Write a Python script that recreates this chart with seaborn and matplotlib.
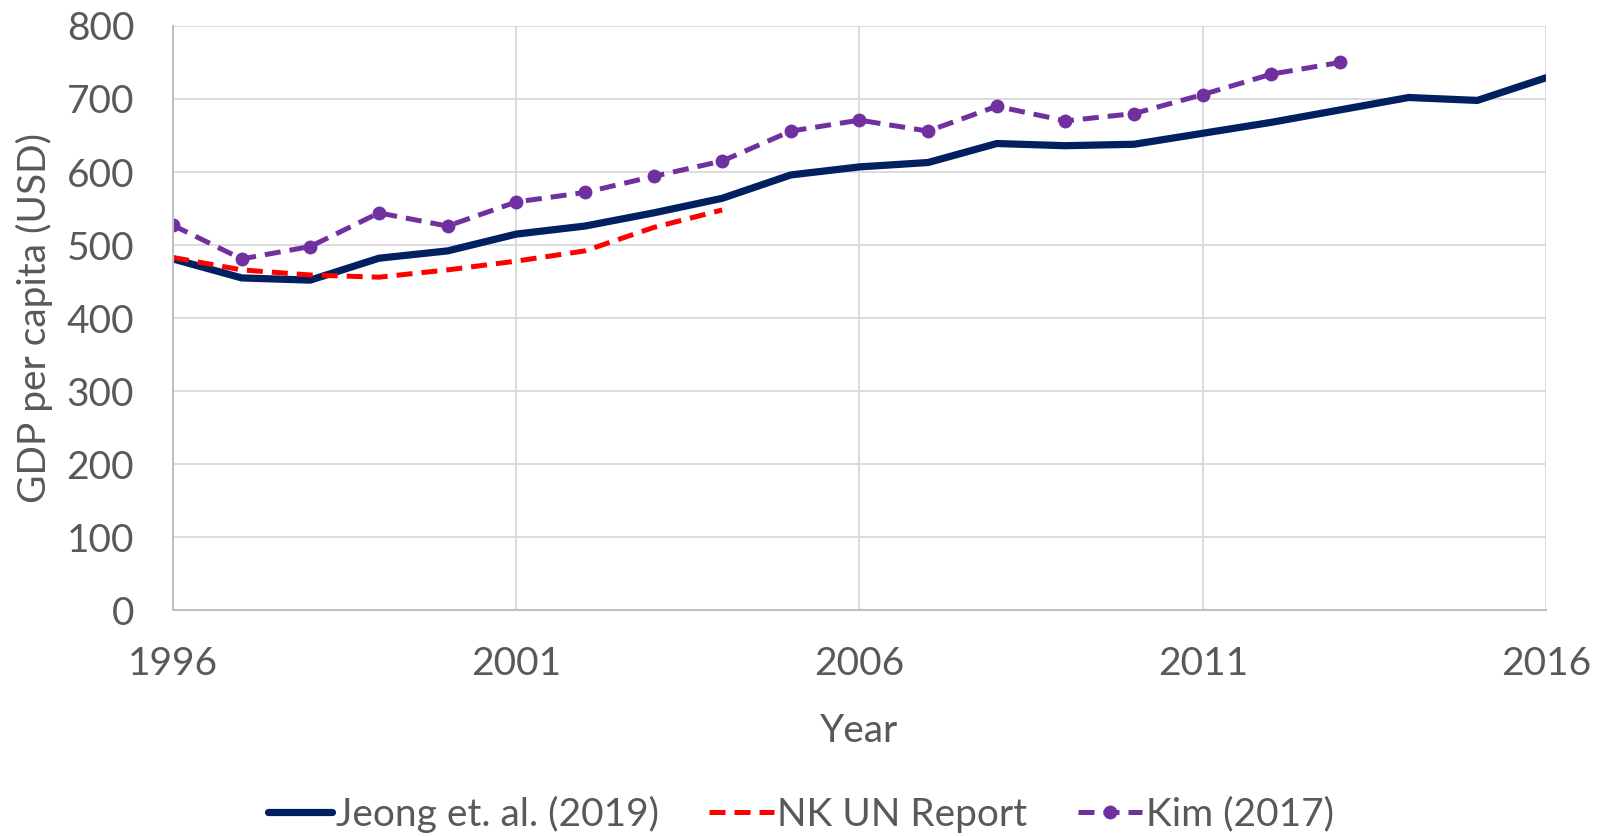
import matplotlib
matplotlib.use("Agg")
import matplotlib.pyplot as plt
import seaborn as sns
import pandas as pd
import numpy as np

# data
years_jeong = list(range(1996, 2017))
gdp_jeong = [481, 455, 452, 482, 492, 515, 526, 544, 564, 596, 607, 613,
             639, 636, 638, 653, 668, 685, 702, 698, 729]

years_un = list(range(1996, 2005))
gdp_un = [483, 466, 459, 456, 466, 478, 492, 524, 548]

years_kim = list(range(1996, 2014))
gdp_kim = [527, 481, 498, 544, 526, 559, 572, 594, 615, 656, 671, 656,
           690, 670, 680, 706, 734, 750]

sns.set_style("whitegrid")
plt.rcParams['font.family'] = ['Lato', 'DejaVu Sans']

fig, ax = plt.subplots(figsize=(16.02, 8.36), dpi=100)
fig.subplots_adjust(left=0.108, right=0.965, top=0.969, bottom=0.27)

dash = (0, (3.2, 1.8))
sns.lineplot(x=years_jeong, y=gdp_jeong, ax=ax, color='#002060', linewidth=5.2,
             label='Jeong et. al. (2019)')
sns.lineplot(x=years_un, y=gdp_un, ax=ax, color='#FF0000', linewidth=3.6,
             linestyle=dash, label='NK UN Report')
sns.lineplot(x=years_kim, y=gdp_kim, ax=ax, color='#7030A0', linewidth=3.6,
             linestyle=dash, marker='o', markersize=10,
             markeredgewidth=0, label='Kim (2017)')

ax.set_xlim(1996, 2016)
ax.set_ylim(0, 800)
ax.set_xticks([1996, 2001, 2006, 2011, 2016])
ax.set_yticks(range(0, 801, 100))
ax.grid(True, color='#D9D9D9', linewidth=1.3)
for s in ['top', 'right']:
    ax.spines[s].set_visible(False)
for s in ['left', 'bottom']:
    ax.spines[s].set_color('#BFBFBF')
    ax.spines[s].set_linewidth(1.5)

ax.tick_params(axis='both', labelsize=28, colors='#595959', length=0)
ax.tick_params(axis='y', pad=28)
ax.tick_params(axis='x', pad=26)
ax.set_xlabel('Year', fontsize=28, color='#595959', labelpad=22)
ax.set_ylabel('GDP per capita (USD)', fontsize=28, color='#595959', labelpad=10)

# legend centred on the figure, not the axes
handles, labels = ax.get_legend_handles_labels()
ax.get_legend().remove()
fig.legend(handles, labels, loc='lower center', bbox_to_anchor=(0.5, -0.038), ncol=3,
           frameon=False, fontsize=28, handlelength=1.65, handletextpad=0.1,
           columnspacing=1.3, labelcolor='#595959')

fig.savefig('out.png', dpi=100)
